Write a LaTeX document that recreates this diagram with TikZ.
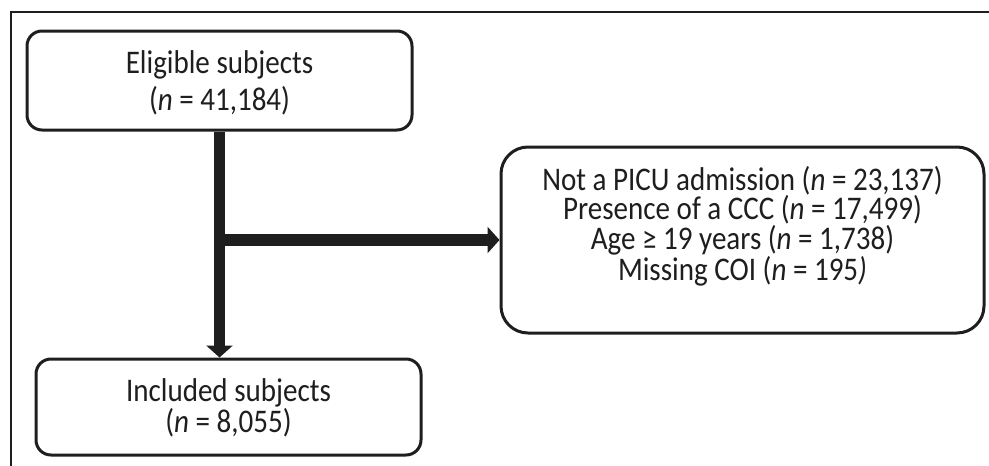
\documentclass[tikz,border=0pt]{standalone}
\usepackage{fontspec}
\setmainfont{Carlito}[FakeStretch=0.88]
\usetikzlibrary{arrows.meta,calc}
\definecolor{ink}{RGB}{30,30,30}
\begin{document}
\begin{tikzpicture}[x=1pt,y=-1pt,
  box/.style={draw=ink,line width=3pt,fill=white,inner sep=0pt},
  txt/.style={align=center,inner sep=0pt,text=ink,font=\fontsize{33}{28.4}\selectfont},
  flow/.style={draw=ink,line width=11.5pt,-{Triangle[width=26pt,length=12pt]}}]
\useasboundingbox (0,0) rectangle (989,466);
\draw[ink,line width=2.5pt] (11,467) -- (11,12) -- (990,12);
\node[box,rounded corners=15pt,minimum width=385pt,minimum height=99pt] (top) at (219.5,80.5) {};
\node[box,rounded corners=15pt,minimum width=385pt,minimum height=96pt] (bot) at (228.5,407) {};
\node[box,rounded corners=27pt,minimum width=483pt,minimum height=186pt] (right) at (742.5,240) {};
\node[txt] (toptxt) at (219.5,83) {Eligible subjects\\[6.7pt](\textit{n} = 41,184)};
\node[txt] (bottxt) at (228.5,408) {Included subjects\\(\textit{n} = 8,055)};
\node[txt] (righttxt) at (742.5,226) {Not a PICU admission (\textit{n} = 23,137)\\Presence of a CCC (\textit{n} = 17,499)\\Age ≥ 19 years (\textit{n} = 1,738)\\Missing COI (\textit{n} = 195\textit{)}};
\coordinate (j) at (top.south |- right.west);
\draw[flow] (top.south) -- (top.south |- bot.north);
\draw[flow] (j) -- (right.west);
\end{tikzpicture}
\end{document}
